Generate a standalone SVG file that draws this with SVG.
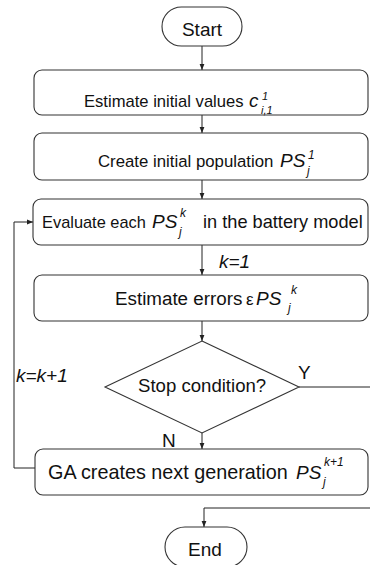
<svg xmlns="http://www.w3.org/2000/svg" width="370" height="565" viewBox="0 0 370 565">
  <defs>
    <marker id="arrow" viewBox="0 0 6 6" refX="6" refY="3" markerWidth="6" markerHeight="6" markerUnits="userSpaceOnUse" orient="auto">
      <path d="M0,0.6 L6,3 L0,5.4 Z" fill="#222"/>
    </marker>
  </defs>
  <style>
    .shape { fill: #fff; stroke: #333; stroke-width: 1.1; }
    .wire { fill: none; stroke: #222; stroke-width: 1; }
    .lbl { font-family: "Liberation Sans", Arial, sans-serif; font-size: 19px; fill: #111; }
    .it { font-style: italic; }
    .sm { font-family: "Liberation Sans", Arial, sans-serif; font-size: 12px; font-style: italic; fill: #111; }
    .xs { font-size: 11px; }
  </style>
  <rect width="370" height="565" fill="#fff"/>

  <!-- connectors -->
  <g id="connectors">
    <line class="wire" x1="202" y1="46" x2="202" y2="70" marker-end="url(#arrow)"/>
    <line class="wire" x1="202" y1="115" x2="202" y2="133" marker-end="url(#arrow)"/>
    <line class="wire" x1="202" y1="180" x2="202" y2="199" marker-end="url(#arrow)"/>
    <line class="wire" x1="202" y1="245" x2="202" y2="275" marker-end="url(#arrow)"/>
    <line class="wire" x1="202" y1="321" x2="202" y2="341" marker-end="url(#arrow)"/>
    <line class="wire" x1="202" y1="433" x2="202" y2="449" marker-end="url(#arrow)"/>
    <polyline class="wire" points="299,387 370,387"/>
    <polyline class="wire" points="370,508 204,508 204,527" marker-end="url(#arrow)"/>
    <polyline class="wire" points="35,468 14,468 14,222 33,222" marker-end="url(#arrow)"/>
    <text class="lbl it" x="219" y="268">k=1</text>
    <text class="lbl it" x="16" y="382">k=k+1</text>
    <text class="lbl" x="298" y="379">Y</text>
    <text class="lbl" x="162" y="447">N</text>
  </g>

  <g id="start">
    <rect class="shape" x="162" y="7" width="80" height="39" rx="19.5" ry="19.5"/>
    <text class="lbl" x="202" y="36" text-anchor="middle">Start</text>
  </g>

  <g id="estimate-initial">
    <rect class="shape" x="34" y="70" width="334" height="45" rx="8" ry="8"/>
    <text class="lbl" x="84" y="107" style="font-size:16.6px">Estimate initial values</text>
    <text class="lbl it" x="249" y="107">c</text>
    <text class="sm xs" x="262" y="100">1</text>
    <text class="sm xs" x="261" y="114">i,1</text>
  </g>

  <g id="create-population">
    <rect class="shape" x="34" y="133" width="334" height="47" rx="8" ry="8"/>
    <text class="lbl" x="98" y="167" style="font-size:16.8px">Create initial population</text>
    <text class="lbl it" x="280" y="167">PS</text>
    <text class="sm" x="308" y="159">1</text>
    <text class="sm" x="307" y="175">j</text>
  </g>

  <g id="evaluate">
    <rect class="shape" x="33" y="199" width="335" height="46" rx="8" ry="8"/>
    <text class="lbl" x="42" y="228" style="font-size:16.4px">Evaluate each</text>
    <text class="lbl it" x="152" y="228">PS</text>
    <text class="sm" x="180" y="217">k</text>
    <text class="sm" x="179" y="236">j</text>
    <text class="lbl" x="203" y="228" style="font-size:18.2px">in the battery model</text>
  </g>

  <g id="estimate-errors">
    <rect class="shape" x="34" y="275" width="334" height="46" rx="8" ry="8"/>
    <text class="lbl" x="115" y="305" style="font-size:18.8px">Estimate errors</text>
    <text class="lbl" x="246" y="305" style="font-size:17px">ε</text>
    <text class="lbl it" x="256" y="305">PS</text>
    <text class="sm" x="291" y="294">k</text>
    <text class="sm" x="288" y="312">j</text>
  </g>

  <g id="stop-condition">
    <polygon class="shape" points="202,341 299,387 202,433 105,387"/>
    <text class="lbl" x="138" y="392" style="font-size:18.6px">Stop condition?</text>
  </g>

  <g id="next-generation">
    <rect class="shape" x="35" y="449" width="333" height="46" rx="8" ry="8"/>
    <text class="lbl" x="48" y="479" style="font-size:19.8px">GA creates next generation</text>
    <text class="lbl it" x="296" y="479">PS</text>
    <text class="sm" x="324" y="466">k+1</text>
    <text class="sm" x="323" y="486">j</text>
  </g>

  <g id="end">
    <rect class="shape" x="165" y="527" width="82" height="40" rx="20" ry="20"/>
    <text class="lbl" x="205" y="556" text-anchor="middle">End</text>
  </g>
</svg>
